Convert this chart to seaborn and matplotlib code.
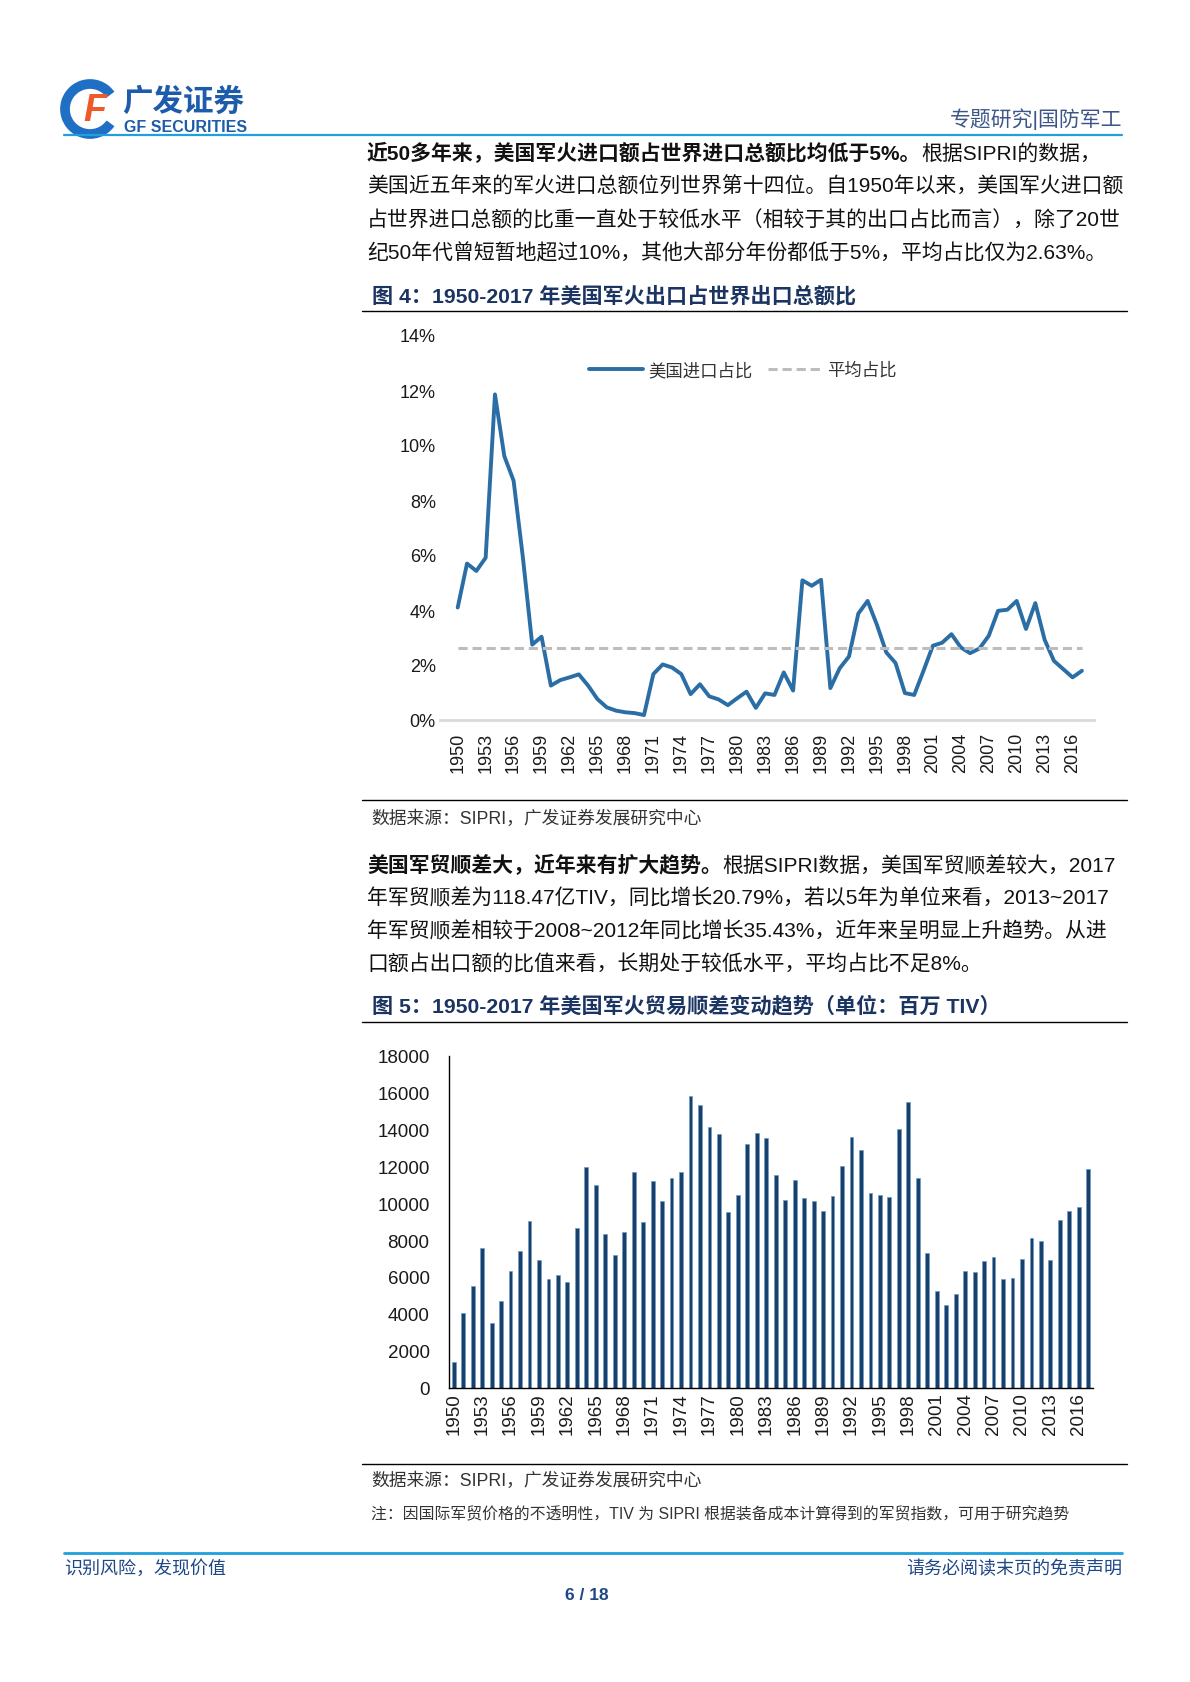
import numpy as np
import pandas as pd
import matplotlib
matplotlib.use("Agg")
import matplotlib.pyplot as plt
from matplotlib.patches import Arc
import seaborn as sns

# ---- data ----
years = list(range(1950, 2018))
import_share = [4.09, 5.69, 5.42, 5.90, 11.84, 9.60, 8.70, 5.90, 2.74, 3.03,
                1.25, 1.45, 1.55, 1.66, 1.25, 0.76, 0.46, 0.34, 0.28, 0.25,
                0.18, 1.67, 2.02, 1.91, 1.67, 0.94, 1.30, 0.86, 0.75, 0.54,
                0.79, 1.03, 0.44, 0.97, 0.91, 1.73, 1.07, 5.08, 4.88, 5.10,
                1.16, 1.88, 2.31, 3.87, 4.33, 3.46, 2.46, 2.07, 0.98, 0.91,
                1.79, 2.70, 2.81, 3.12, 2.64, 2.43, 2.60, 3.06, 3.97, 4.01,
                4.33, 3.31, 4.25, 2.92, 2.15, 1.85, 1.55, 1.79]
avg_share = 2.63
trade_surplus = [1400, 4040, 5530, 7590, 3480, 4700, 6320, 7400, 9010, 6900,
                 5860, 6090, 5710, 8630, 11950, 10990, 8310, 7190, 8410, 11710,
                 8970, 11210, 10110, 11370, 11680, 15820, 15320, 14110, 13770, 9530,
                 10430, 13190, 13820, 13550, 11530, 10160, 11280, 10270, 10110, 9570,
                 10380, 12020, 13600, 12880, 10540, 10450, 10320, 14000, 15510, 11350,
                 7280, 5210, 4470, 5080, 6310, 6270, 6880, 7060, 5910, 5960,
                 6970, 8110, 7950, 6900, 9100, 9550, 9810, 11847]
label_years = list(range(1950, 2017, 3))
share_ticks = [0, 2, 4, 6, 8, 10, 12, 14]
surplus_ticks = list(range(0, 18001, 2000))

para1 = [
    [("近50多年来，美国军火进口额占世界进口总额比均低于5%。", "bold"), ("根据SIPRI的数据，", "normal")],
    [("美国近五年来的军火进口总额位列世界第十四位。自1950年以来，美国军火进口额", "normal")],
    [("占世界进口总额的比重一直处于较低水平（相较于其的出口占比而言），除了20世", "normal")],
    [("纪50年代曾短暂地超过10%，其他大部分年份都低于5%，平均占比仅为2.63%。", "normal")],
]
para2 = [
    [("美国军贸顺差大，近年来有扩大趋势。", "bold"), ("根据SIPRI数据，美国军贸顺差较大，2017", "normal")],
    [("年军贸顺差为118.47亿TIV，同比增长20.79%，若以5年为单位来看，2013~2017", "normal")],
    [("年军贸顺差相较于2008~2012年同比增长35.43%，近年来呈明显上升趋势。从进", "normal")],
    [("口额占出口额的比值来看，长期处于较低水平，平均占比不足8%。", "normal")],
]

sns.set_style("white")
plt.rcParams['font.family'] = ['Liberation Sans', 'Noto Sans CJK SC', 'DejaVu Sans']
FAM = ['Liberation Sans', 'Noto Sans CJK SC', 'DejaVu Sans']

W, H = 1190, 1683
fig = plt.figure(figsize=(W / 100, H / 100), dpi=100)

# background axes in pixel coordinates for page furniture
bg = fig.add_axes([0, 0, 1, 1])
bg.set_xlim(0, W)
bg.set_ylim(H, 0)
bg.axis('off')
renderer = fig.canvas.get_renderer()

BLUE_RULE = '#1ea0dc'
NAVY = '#1c3461'

# logo
bg.add_patch(Arc((90, 110), 50, 50, theta1=35, theta2=325, lw=7, color='#1f6fc4'))
bg.text(95, 111, "F", fontsize=27, weight='bold', style='italic', color='#ef5a29',
        ha='center', va='center', family=FAM)
bg.text(122, 103, "广发证券", fontsize=22, weight='bold', color='#1d5cab', ha='left', va='center', family=FAM)
bg.text(124, 128, "GF SECURITIES", fontsize=11.5, weight='bold', color='#1d5cab', ha='left', va='center', family=FAM)
bg.text(1122, 119, "专题研究|国防军工", fontsize=15, color='#3b5687', ha='right', va='center', family=FAM)
bg.plot([64, 1122], [136, 136], color=BLUE_RULE, lw=1.6)


def rich_line(x, y, parts, size=15):
    for txt, w in parts:
        t = bg.text(x, y, txt, fontsize=size, weight=w, family=FAM, color='#111111',
                    ha='left', va='center')
        x += t.get_window_extent(renderer=renderer).width


for i, parts in enumerate(para1):
    rich_line(367, 154 + i * 33.2, parts)
for i, parts in enumerate(para2):
    rich_line(367, 866 + i * 32.5, parts)

# figure titles, rules, sources
bg.text(372, 296, "图 4：1950-2017 年美国军火出口占世界出口总额比", fontsize=15.2, weight='bold',
        color=NAVY, ha='left', va='center', family=FAM)
bg.plot([362, 1127], [312, 312], color='black', lw=1)
bg.plot([362, 1127], [801, 801], color='black', lw=1)
bg.text(371, 819, "数据来源：SIPRI，广发证券发展研究中心", fontsize=12.8, color='#333333',
        ha='left', va='center', family=FAM)

bg.text(372, 1006, "图 5：1950-2017 年美国军火贸易顺差变动趋势（单位：百万 TIV）", fontsize=15.2,
        weight='bold', color=NAVY, ha='left', va='center', family=FAM)
bg.plot([362, 1127], [1023, 1023], color='black', lw=1)
bg.plot([362, 1127], [1465, 1465], color='black', lw=1)
bg.text(371, 1481, "数据来源：SIPRI，广发证券发展研究中心", fontsize=12.8, color='#333333',
        ha='left', va='center', family=FAM)
bg.text(371, 1515, "注：因国际军贸价格的不透明性，TIV 为 SIPRI 根据装备成本计算得到的军贸指数，可用于研究趋势",
        fontsize=11.4, color='#333333', ha='left', va='center', family=FAM)

# footer
bg.plot([64, 1122], [1554, 1554], color=BLUE_RULE, lw=2)
bg.text(64, 1569, "识别风险，发现价值", fontsize=13, color='#1f4787', ha='left', va='center', family=FAM)
bg.text(1122, 1569, "请务必阅读末页的免责声明", fontsize=13, color='#1f4787', ha='right', va='center', family=FAM)
bg.text(587, 1596, "6 / 18", fontsize=12.5, weight='bold', color='#1f4787', ha='center', va='center', family=FAM)

# ---- chart 1: import share line ----
share_df = pd.DataFrame({"year": years, "share": import_share})
ax1 = fig.add_axes([440 / W, 1 - 721 / H, (1094 - 440) / W, (721 - 336) / H])
sns.lineplot(data=share_df, x="year", y="share", ax=ax1, color='#2b6ea6', linewidth=2.8,
             label="美国进口占比")
ax1.hlines(avg_share, years[0], years[-1], colors='#bdbdbd', linestyles=(0, (3, 1.6)),
           linewidth=2.2, label="平均占比")
ax1.set_xlim(1948.1, 2018.3)
ax1.set_ylim(0, 14)
ax1.set_yticks(share_ticks)
ax1.set_yticklabels([f"{v}%" for v in share_ticks])
ax1.set_xticks(label_years)
ax1.set_xticklabels([str(y) for y in label_years], rotation=90)
ax1.tick_params(axis='both', length=0, labelsize=13, labelcolor='#1a1a1a')
ax1.tick_params(axis='y', pad=3)
ax1.tick_params(axis='x', pad=8.5)
ax1.set_xlabel("")
ax1.set_ylabel("")
for s in ['top', 'right', 'left']:
    ax1.spines[s].set_visible(False)
ax1.spines['bottom'].set_color('#d9d9d9')
ax1.spines['bottom'].set_linewidth(2)
ax1.set_facecolor('none')
ax1.legend(loc='center', bbox_to_anchor=(0.463, 0.909), ncol=2, frameon=False,
           handlelength=3.1, columnspacing=0.9, handletextpad=0.3,
           prop={'family': ['Noto Sans CJK SC'], 'size': 12.5})
for t in ax1.get_legend().get_texts():
    t.set_color('#333333')

# ---- chart 2: trade surplus bars ----
surplus_df = pd.DataFrame({"year": [str(y) for y in years], "surplus": trade_surplus})
ax2 = fig.add_axes([449 / W, 1 - 1388.5 / H, (1093 - 449) / W, (1388.5 - 1056.7) / H])
sns.barplot(data=surplus_df, x="year", y="surplus", ax=ax2, color='#17406b', saturation=1,
            width=0.4, edgecolor='#6f9cc4', linewidth=0.5)
ax2.set_xlim(-0.5, len(years) - 0.5)
ax2.set_ylim(0, 18000)
ax2.set_yticks(surplus_ticks)
ax2.set_yticklabels([str(v) for v in surplus_ticks])
label_pos = [years.index(y) for y in label_years]
ax2.set_xticks(label_pos)
ax2.set_xticklabels([str(y) for y in label_years], rotation=90)
ax2.set_xticks(np.arange(-0.5, len(years), 1.0), minor=True)
ax2.tick_params(axis='x', which='major', length=0, pad=3.5)
ax2.tick_params(axis='x', which='minor', length=5, width=1, direction='out', color='black')
ax2.tick_params(axis='y', length=5, width=1, direction='out', pad=9, color='black')
ax2.tick_params(axis='both', labelsize=13.5, labelcolor='#1a1a1a')
ax2.set_xlabel("")
ax2.set_ylabel("")
for s in ['top', 'right']:
    ax2.spines[s].set_visible(False)
for s in ['left', 'bottom']:
    ax2.spines[s].set_color('black')
    ax2.spines[s].set_linewidth(1)
ax2.set_facecolor('none')

fig.savefig("out.png", dpi=100, facecolor='white')
